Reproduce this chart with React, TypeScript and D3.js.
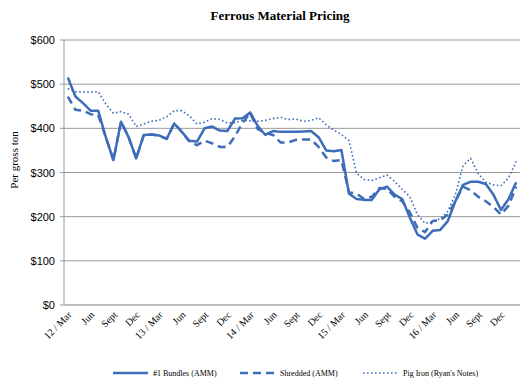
import React from "react";
import * as d3 from "d3";

const months = ["Mar","Apr","May","Jun","Jul","Aug","Sept","Oct","Nov","Dec","Jan","Feb"];
const startYear = 12;
const nMonths = 60;

const bundles = [515,472,457,440,440,380,328,415,380,332,385,386,384,376,411,392,372,370,400,404,395,394,422,423,436,405,385,394,392,392,392,393,394,380,350,348,351,252,240,238,238,262,268,250,240,198,160,150,168,170,190,235,272,279,279,274,250,215,240,278];
const shredded = [472,442,440,432,430,380,328,415,380,332,385,386,384,376,411,392,370,362,372,366,358,358,382,413,434,398,390,385,368,368,374,375,375,358,334,326,328,255,252,240,245,265,263,245,235,210,175,165,190,192,205,235,268,260,245,235,222,205,225,268];
const pigIron = [490,483,482,482,483,455,434,438,432,404,410,416,418,426,440,440,428,410,414,422,420,412,413,418,417,416,418,422,425,420,421,416,418,424,408,396,386,372,298,284,282,288,294,280,262,245,205,185,188,195,212,250,315,332,298,278,272,270,288,325];

const yTicks = [0,100,200,300,400,500,600];

const seriesNames = ["#1 Bundles (AMM)", "Shredded (AMM)", "Pig Iron (Ryan's Notes)"];

const W = 532, H = 383;
const left = 64, right = 520, top = 40, bottom = 305;
const color = "#3D6DB9";

function label(i: number): string {
  const m = i % 12;
  const yr = startYear + Math.floor(i / 12);
  return m === 0 ? `${yr} / Mar` : months[m];
}

export default function App() {
  const idx = d3.range(nMonths);
  const x = d3.scaleBand<number>().domain(idx).range([left, right]).padding(0);
  const cx = (i: number) => (x(i) as number) + x.bandwidth() / 2;
  const y = d3.scaleLinear().domain([0, 600]).range([bottom, top]);
  const line = d3.line<number>().x((_, i) => cx(i)).y((d) => y(d));

  const styles = [
    { w: 2.5, dash: undefined as string | undefined },
    { w: 2.5, dash: "8,5" },
    { w: 1.6, dash: "1.6,2.4" },
  ];
  const data = [bundles, shredded, pigIron];
  const legendX = [113, 240, 363];

  return (
    <svg width={W} height={H} style={{ position: "absolute", left: 0, top: 0, background: "#fff" }}>
      <text x={280} y={20} textAnchor="middle" fontFamily="Liberation Serif" fontWeight="bold" fontSize={13}>
        Ferrous Material Pricing
      </text>
      {yTicks.map((t) => (
        <g key={t}>
          {t !== 0 && <line x1={left} x2={right} y1={y(t)} y2={y(t)} stroke="#999" strokeWidth={1} />}
          <line x1={left - 4} x2={left} y1={y(t)} y2={y(t)} stroke="#999" strokeWidth={1} />
          <text x={55} y={y(t) + 4} textAnchor="end" fontFamily="Liberation Sans" fontSize={11} fill="#000">
            {"$" + t}
          </text>
        </g>
      ))}
      <line x1={left} x2={left} y1={top} y2={bottom} stroke="#999" strokeWidth={1} />
      <line x1={left} x2={right} y1={y(0)} y2={y(0)} stroke="#bdbdbd" strokeWidth={2} />
      <text transform="translate(18,160) rotate(-90)" textAnchor="middle" fontFamily="Liberation Serif" fontSize={11}>
        Per gross ton
      </text>
      {idx.filter((i) => i % 3 === 0).map((i) => (
        <text key={i} transform={`translate(${cx(i) + 2},${313}) rotate(-45)`} textAnchor="end" dy="0.35em"
          fontFamily="Liberation Serif" fontSize={10}>
          {label(i)}
        </text>
      ))}
      {data.map((d, k) => (
        <path key={k} d={line(d) || ""} fill="none" stroke={color} strokeWidth={styles[k].w}
          strokeDasharray={styles[k].dash} strokeLinejoin="round" />
      ))}
      {seriesNames.map((n, k) => (
        <g key={n}>
          <line x1={legendX[k]} x2={legendX[k] + 35} y1={373} y2={373} stroke={color}
            strokeWidth={styles[k].w} strokeDasharray={styles[k].dash} />
          <text x={legendX[k] + 40} y={376} fontFamily="Liberation Serif" fontSize={8}>{n}</text>
        </g>
      ))}
    </svg>
  );
}
